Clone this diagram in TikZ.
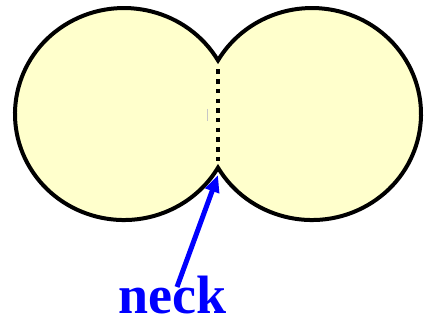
\documentclass[tikz,border=0pt]{standalone}
\usepackage{fontspec}
\setmainfont{Liberation Serif}
\usetikzlibrary{arrows.meta}
\definecolor{grainfill}{RGB}{255,255,204}
\definecolor{neckblue}{RGB}{0,0,255}
\tikzset{
  grain/.style={fill=grainfill, draw=black, line width=4pt, line join=miter},
  neckline/.style={draw=black, line width=4.5pt, dash pattern=on 4.5pt off 5.2pt},
  pointer/.style={draw=neckblue, line width=5pt, -{Triangle[length=17pt,width=14pt]}},
  label/.style={text=neckblue, font=\bfseries\fontsize{54}{60}\selectfont, inner sep=0pt}
}
\begin{document}
\begin{tikzpicture}[x=1pt,y=1pt]
  \useasboundingbox (0,0) rectangle (424,320);
  % two sintered grains joined at the neck
  \coordinate (topcusp) at (218,259.6);
  \coordinate (botcusp) at (218,152.4);
  \path[grain] (topcusp)
    arc[start angle=30.4, end angle=329.6, x radius=109, y radius=106]
    arc[start angle=-149.6, end angle=149.6, x radius=109, y radius=106]
    -- cycle;
  % grain boundary across the neck
  \coordinate (dotstart) at (218,250.5);
  \coordinate (dotend) at (218,155);
  \draw[neckline] (dotstart) -- (dotend);
  \coordinate (marktop) at (207,211);
  \coordinate (markbot) at (207,199);
  \draw[gray!45, line width=0.8pt] (marktop) -- (markbot);
  % label and pointer
  \node[label, anchor=base] (neck) at (172.5,6.5) {neck};
  \coordinate (tail) at (177,33);
  \coordinate (tip) at (218,145);
  \draw[pointer] (tail) -- (tip);
\end{tikzpicture}
\end{document}
